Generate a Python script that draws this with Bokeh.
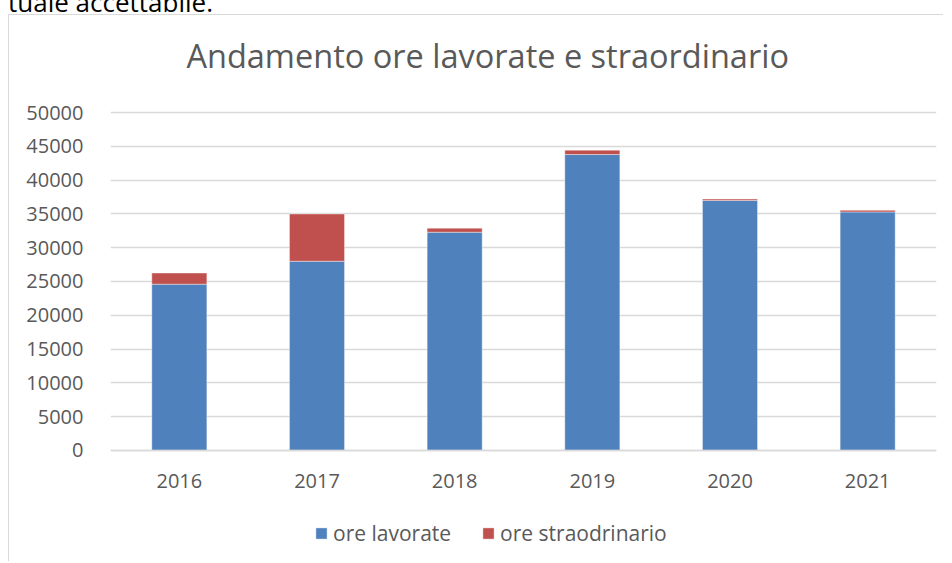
from bokeh.plotting import figure
from bokeh.models import (ColumnDataSource, FactorRange, Range1d, Legend, LegendItem,
                          FixedTicker, BasicTickFormatter, Label, Div)
from bokeh.layouts import column
from bokeh.embed import file_html
from bokeh.resources import INLINE

anni = ["2016", "2017", "2018", "2019", "2020", "2021"]
ore_lavorate = [24600, 28000, 32300, 43800, 37000, 35300]
ore_straordinario = [1650, 7000, 600, 650, 200, 250]
tick_y = [0, 5000, 10000, 15000, 20000, 25000, 30000, 35000, 40000, 45000, 50000]
titolo = "Andamento ore lavorate e straordinario"
serie = ["ore lavorate", "ore straodrinario"]
colori = ["#4F81BD", "#C0504D"]
testo_sopra = "tuale accettabile."

FONT = "Open Sans"
TXT = "#595959"

source = ColumnDataSource(dict(anni=anni, lav=ore_lavorate, stra=ore_straordinario))

# cropped document text above the chart
top = Div(text='<div style="margin-top:-16px;font-family:\'Open Sans\';font-size:26px;'
               'line-height:26px;color:#000;white-space:nowrap;">' + testo_sopra + '</div>',
          width=400, height=14, margin=(0, 0, 0, 8), styles={"overflow": "hidden"})

# vertical extent of the frame covers the whole chart area; 0..50000 spans 337 px
px = 50000 / 337.0
p = figure(x_range=FactorRange(*anni, range_padding=0),
           y_range=Range1d(-112 * px, 50000 + 97 * px),
           frame_width=825, frame_height=546, output_backend="svg", toolbar_location=None,
           min_border_left=101, min_border_right=8, min_border_top=0, min_border_bottom=0)
p.margin = (0, 0, 0, 8)
p.styles = {"border-left": "1px solid #d9d9d9", "border-top": "1px solid #d9d9d9"}
p.outline_line_color = None
p.background_fill_color = "white"
p.border_fill_color = "white"

rs = p.vbar_stack(["lav", "stra"], x="anni", width=0.4, color=colori, source=source,
                  line_color="white", line_width=0.8, line_alpha=0.5)

# axes
p.xgrid.grid_line_color = None
p.ygrid.grid_line_color = "#d9d9d9"
p.ygrid.grid_line_width = 1.3
p.yaxis.ticker = FixedTicker(ticks=tick_y)
p.yaxis.formatter = BasicTickFormatter(use_scientific=False)
for ax in (p.xaxis[0], p.yaxis[0]):
    ax.major_tick_line_color = None
    ax.minor_tick_line_color = None
    ax.major_label_text_font = FONT
    ax.major_label_text_font_size = "20px"
    ax.major_label_text_color = TXT
p.yaxis.axis_line_color = None
p.yaxis.major_label_standoff = 21
p.xaxis.fixed_location = 0
p.xaxis.axis_line_color = "#d9d9d9"
p.xaxis.axis_line_width = 1.3
p.xaxis.major_label_standoff = 18

# title
p.add_layout(Label(x=2.74, y=58450, text=titolo, text_align="center", text_baseline="alphabetic",
                   text_font=FONT, text_font_size="32.5px", text_color=TXT))

legend = Legend(items=[LegendItem(label=serie[i], renderers=[rs[i]]) for i in range(2)],
                orientation="horizontal", location=(204, 15),
                glyph_width=14, glyph_height=14, label_standoff=5, spacing=30,
                padding=0, margin=0, border_line_color=None, background_fill_alpha=0,
                label_text_font=FONT, label_text_font_size="21px", label_text_color=TXT,
                label_height=20)
p.add_layout(legend)

layout = column(top, p, spacing=0)
open("out.html", "w").write(file_html(layout, INLINE))
